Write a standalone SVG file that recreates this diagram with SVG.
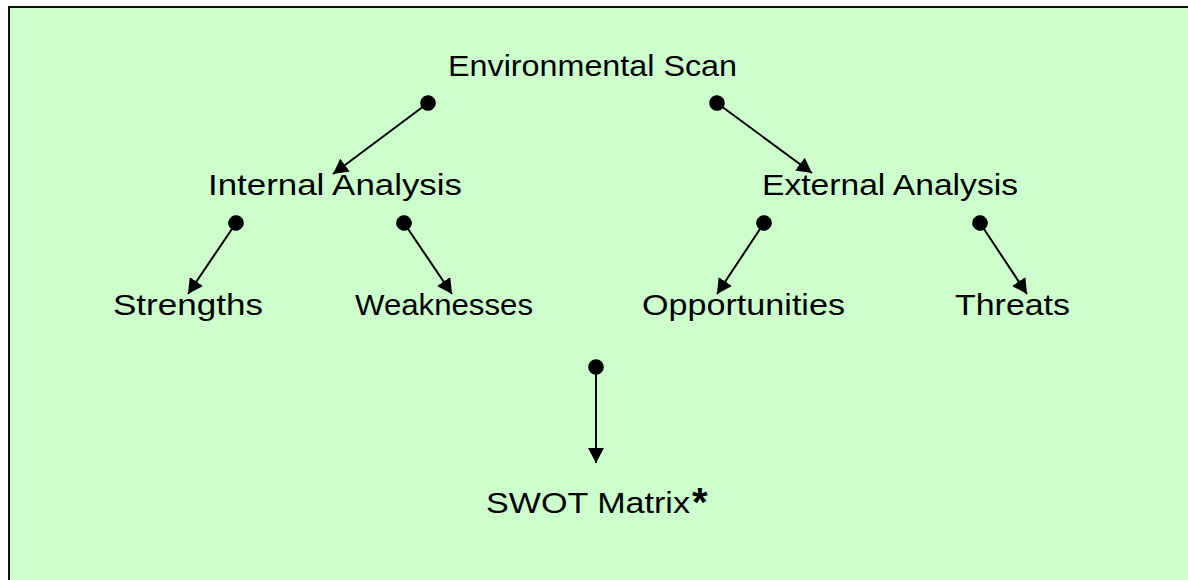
<svg xmlns="http://www.w3.org/2000/svg" width="1188" height="580" viewBox="0 0 1188 580">
  <style>
    .lbl { font-family: "Liberation Sans", Arial, sans-serif; font-size: 30px; fill: #000; }
    .star { font-family: "Liberation Sans", Arial, sans-serif; font-size: 40px; font-weight: bold; fill: #000; }
    .conn { stroke: #000; stroke-width: 2; fill: none; marker-start: url(#dot); marker-end: url(#arrow); }
  </style>
  <defs>
    <marker id="dot" markerUnits="userSpaceOnUse" markerWidth="18" markerHeight="18" refX="9" refY="9" orient="auto">
      <circle cx="9" cy="9" r="7.8" fill="#000"/>
    </marker>
    <marker id="arrow" markerUnits="userSpaceOnUse" markerWidth="16" markerHeight="16" refX="15" refY="8" orient="auto">
      <path d="M0,0 L15,8 L0,16 Z" fill="#000"/>
    </marker>
  </defs>
  <rect x="0" y="0" width="1188" height="580" fill="#fff"/>
  <rect id="frame" x="9" y="7" width="1200" height="600" fill="#CCFFCC" stroke="#111" stroke-width="2"/>

  <g id="connectors">
    <line class="conn" x1="428" y1="103" x2="333" y2="174"/>
    <line class="conn" x1="717" y1="103" x2="812" y2="173"/>
    <line class="conn" x1="236" y1="223" x2="188" y2="294"/>
    <line class="conn" x1="404" y1="223" x2="452" y2="294"/>
    <line class="conn" x1="764" y1="223" x2="717" y2="294"/>
    <line class="conn" x1="980" y1="223" x2="1027" y2="294"/>
    <line class="conn" x1="596" y1="367" x2="596" y2="463"/>
  </g>

  <g id="env-scan"><text class="lbl" x="448" y="76" textLength="289" lengthAdjust="spacingAndGlyphs">Environmental Scan</text></g>
  <g id="internal"><text class="lbl" x="208" y="195" textLength="254" lengthAdjust="spacingAndGlyphs">Internal Analysis</text></g>
  <g id="external"><text class="lbl" x="762" y="195" textLength="256" lengthAdjust="spacingAndGlyphs">External Analysis</text></g>
  <g id="strengths"><text class="lbl" x="113" y="315" textLength="150" lengthAdjust="spacingAndGlyphs">Strengths</text></g>
  <g id="weaknesses"><text class="lbl" x="355" y="315" textLength="178" lengthAdjust="spacingAndGlyphs">Weaknesses</text></g>
  <g id="opportunities"><text class="lbl" x="642" y="315" textLength="203" lengthAdjust="spacingAndGlyphs">Opportunities</text></g>
  <g id="threats"><text class="lbl" x="955" y="315" textLength="115" lengthAdjust="spacingAndGlyphs">Threats</text></g>
  <g id="swot">
    <text class="lbl" x="486" y="513" textLength="204" lengthAdjust="spacingAndGlyphs">SWOT Matrix</text>
    <text class="star" x="692" y="516">*</text>
  </g>
</svg>
